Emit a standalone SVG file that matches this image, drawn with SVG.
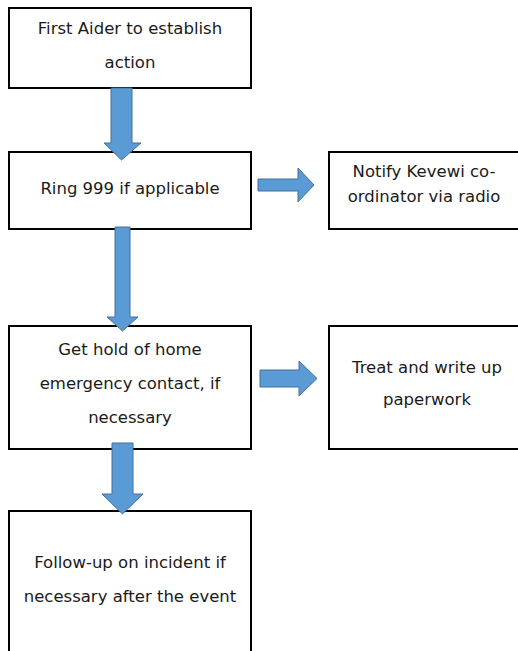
<svg xmlns="http://www.w3.org/2000/svg" width="518" height="651" viewBox="0 0 518 651">
<style>
.box{fill:#fff;stroke:#000;stroke-width:2}
.arr{fill:#5B9BD5;stroke:#41719C;stroke-width:1}
text{font-family:"DejaVu Sans","Noto Sans",sans-serif;font-size:16.5px;fill:#1a1a1a;text-anchor:middle}
</style>
<rect width="518" height="651" fill="#fff"/>
<g id="n1"><rect class="box" x="9" y="8" width="242" height="80"/>
<text x="130" y="34">First Aider to establish</text><text x="130" y="68">action</text></g>
<g id="n2"><rect class="box" x="9" y="152" width="242" height="77"/>
<text x="130" y="194">Ring 999 if applicable</text></g>
<g id="n3"><rect class="box" x="329" y="152" width="200" height="77"/>
<text x="424" y="177">Notify Kevewi co-</text><text x="424" y="202">ordinator via radio</text></g>
<g id="n4"><rect class="box" x="9" y="326" width="242" height="123"/>
<text x="130" y="355">Get hold of home</text><text x="130" y="389">emergency contact, if</text><text x="130" y="423">necessary</text></g>
<g id="n5"><rect class="box" x="329" y="326" width="200" height="123"/>
<text x="427" y="373">Treat and write up</text><text x="427" y="405">paperwork</text></g>
<g id="n6"><rect class="box" x="9" y="511" width="242" height="150"/>
<text x="130" y="568">Follow-up on incident if</text><text x="130" y="602">necessary after the event</text></g>
<g id="connectors">
<polygon class="arr" points="111,88 132,88 132,143 141,143 121.5,160 104,143 111,143"/>
<polygon class="arr" points="258,179 298,179 298,168 314,185 298,202 298,191 258,191"/>
<polygon class="arr" points="115,227 130,227 130,317 138,317 122.5,331 107,317 115,317"/>
<polygon class="arr" points="260,370 299,370 299,361 317,378.5 299,396 299,387 260,387"/>
<polygon class="arr" points="112,443 133,443 133,494 143,494 122.5,514 102,494 112,494"/>
</g>
</svg>
